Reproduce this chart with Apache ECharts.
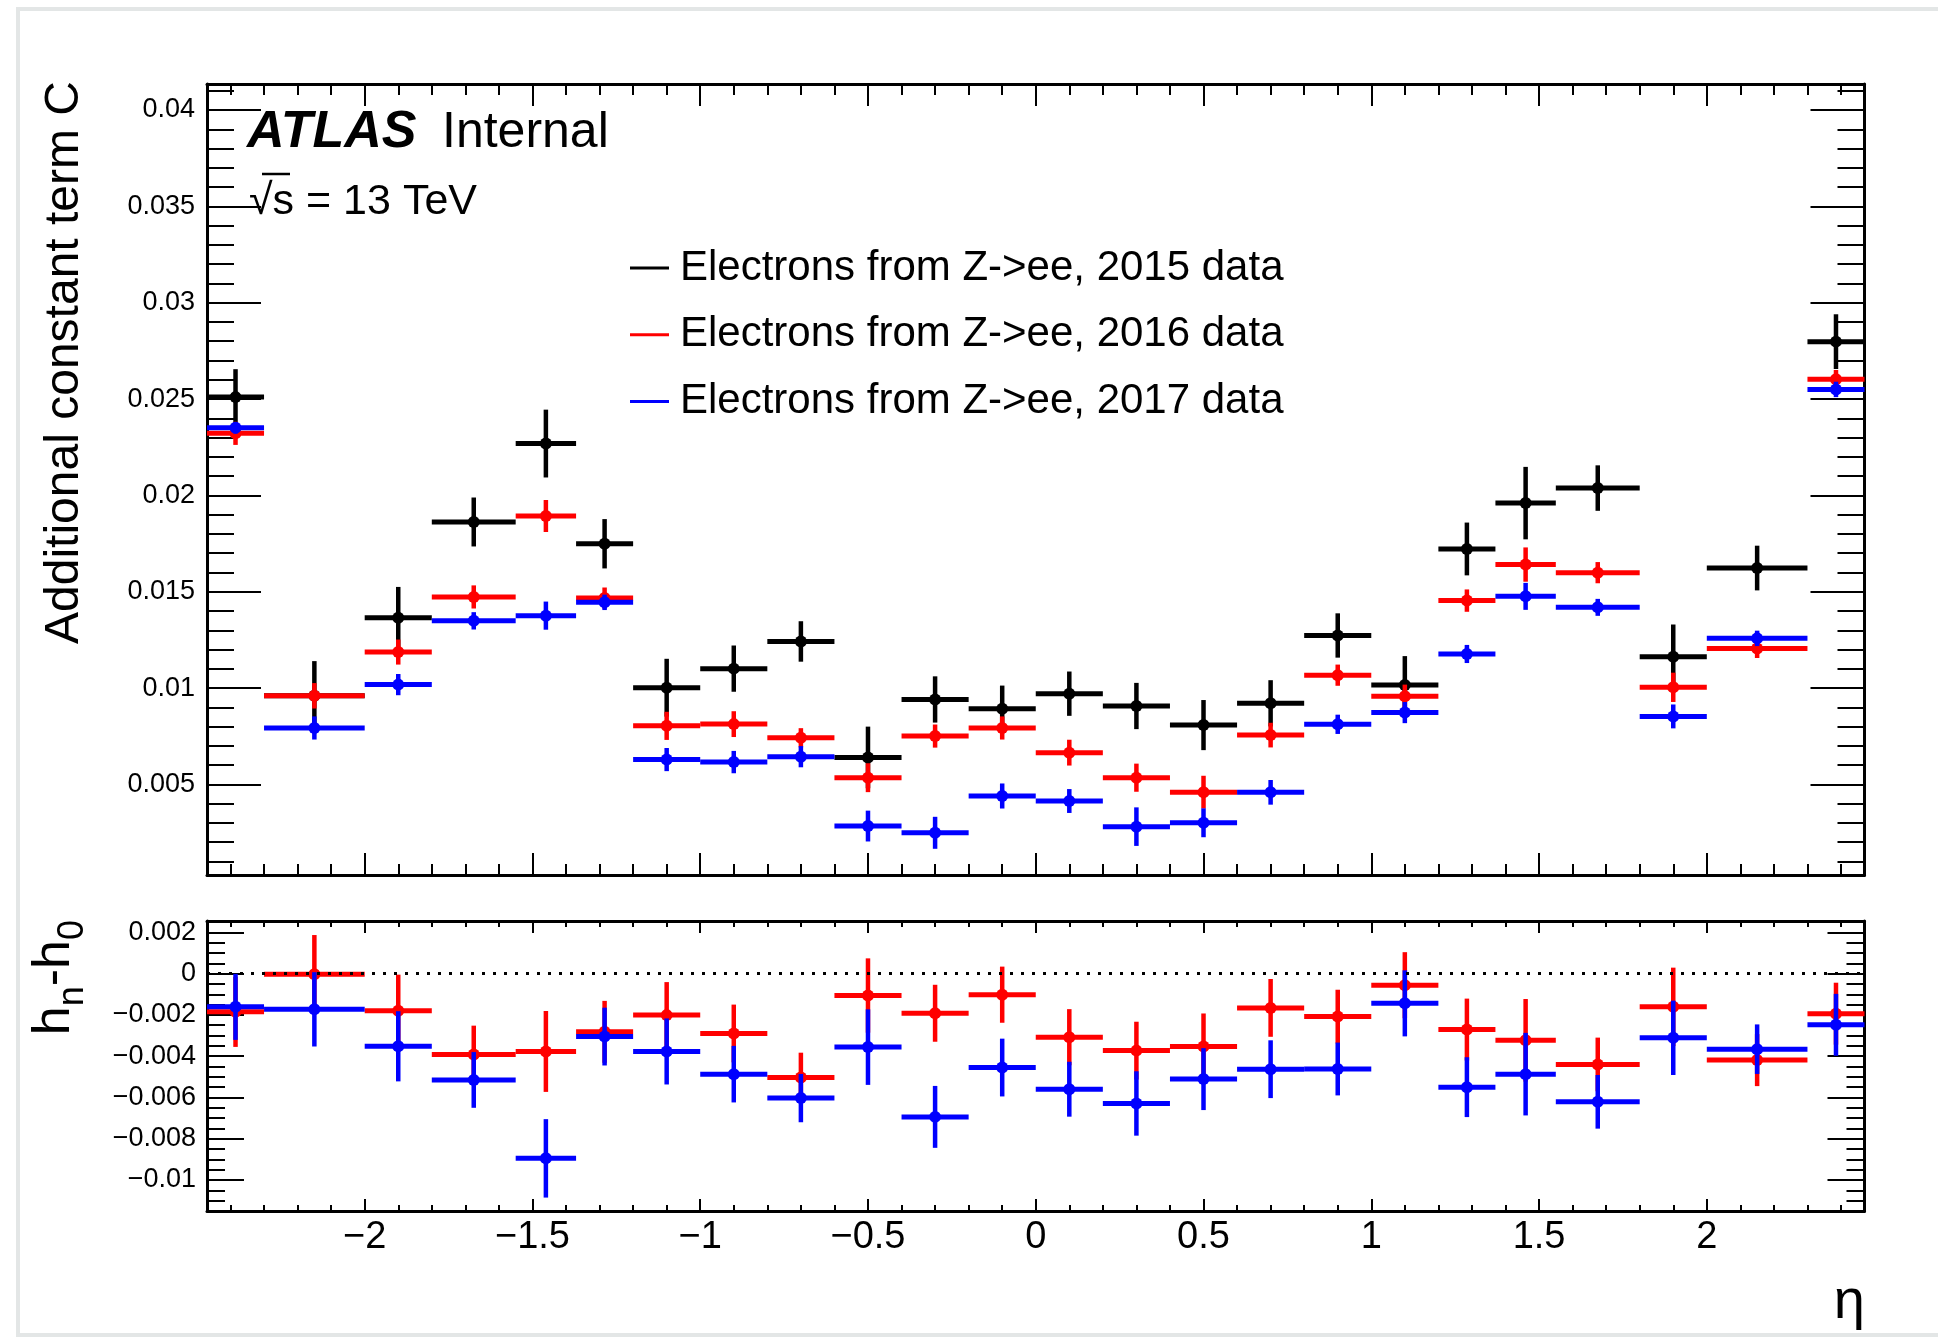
<!DOCTYPE html>
<html>
<head>
<meta charset="utf-8">
<script src="https://cdn.jsdelivr.net/npm/echarts@6/dist/echarts.min.js"></script>
<style>
  html, body { margin: 0; padding: 0; background: #fff; }
  #chart { width: 1938px; height: 1343px; }
</style>
</head>
<body>
<div id="chart"></div>
<script>
// eta bin edges (24 bins)
const etaEdges = [-2.47, -2.3, -2.0, -1.8, -1.55, -1.37, -1.2, -1.0, -0.8, -0.6, -0.4, -0.2,
  0, 0.2, 0.4, 0.6, 0.8, 1.0, 1.2, 1.37, 1.55, 1.8, 2.0, 2.3, 2.47];

// additional constant term C per bin
const c2015 = [0.0251, 0.0096, 0.01365, 0.01862, 0.02269, 0.01749, 0.01002, 0.01101, 0.01242, 0.0064, 0.00941, 0.00893,
  0.00971, 0.00907, 0.00808, 0.00921, 0.01273, 0.01016, 0.01722, 0.0196, 0.02038, 0.01163, 0.01623, 0.02798];
const c2015Err = [0.00145, 0.0018, 0.0016, 0.00127, 0.00176, 0.00128, 0.0015, 0.0012, 0.00105, 0.0016, 0.0012, 0.0012,
  0.00115, 0.0012, 0.0013, 0.0012, 0.00115, 0.0015, 0.00137, 0.00188, 0.00118, 0.00167, 0.00116, 0.00142];
const c2016 = [0.02322, 0.0096, 0.01187, 0.01473, 0.01893, 0.01467, 0.00804, 0.00813, 0.00742, 0.00535, 0.00751, 0.00793,
  0.00665, 0.00535, 0.0046, 0.00756, 0.01067, 0.00958, 0.01454, 0.01641, 0.01599, 0.01004, 0.01206, 0.02603];
const c2016Err = [0.0006, 0.00066, 0.00065, 0.0006, 0.00083, 0.00055, 0.00073, 0.00067, 0.0005, 0.00075, 0.0006, 0.0006,
  0.00067, 0.00073, 0.00085, 0.00064, 0.00055, 0.0006, 0.00058, 0.00089, 0.00055, 0.00076, 0.0005, 0.00048];
const c2017 = [0.02351, 0.00793, 0.01018, 0.01349, 0.01376, 0.01445, 0.00629, 0.00616, 0.00644, 0.00284, 0.00249, 0.0044,
  0.00414, 0.00281, 0.00301, 0.00459, 0.00812, 0.00873, 0.01177, 0.01476, 0.01419, 0.00853, 0.01258, 0.0255];
const c2017Err = [0.0003, 0.0006, 0.00055, 0.00045, 0.00073, 0.0004, 0.0006, 0.00058, 0.00055, 0.0008, 0.00083, 0.00065,
  0.00062, 0.001, 0.00075, 0.00064, 0.0005, 0.00055, 0.00047, 0.0007, 0.00044, 0.00062, 0.0004, 0.0004];

// h_n - h_0 (lower panel)
const d2016 = [-0.00185, -0.00003, -0.0018, -0.00392, -0.00377, -0.00282, -0.00201, -0.0029, -0.00503, -0.00106, -0.00192, -0.00102,
  -0.00308, -0.00373, -0.00353, -0.00166, -0.00208, -0.00056, -0.00271, -0.00323, -0.0044, -0.00161, -0.00419, -0.00194];
const d2016Err = [0.0017, 0.0019, 0.00175, 0.0014, 0.00196, 0.0015, 0.0016, 0.0014, 0.0012, 0.0018, 0.00138, 0.00136,
  0.00136, 0.0014, 0.0016, 0.0014, 0.0013, 0.0016, 0.0015, 0.002, 0.0013, 0.0019, 0.00126, 0.0015];
const d2017 = [-0.00161, -0.00173, -0.00352, -0.00515, -0.00895, -0.00305, -0.00377, -0.00487, -0.00603, -0.00356, -0.00694, -0.00455,
  -0.0056, -0.00629, -0.00511, -0.00463, -0.00462, -0.00144, -0.0055, -0.00487, -0.00621, -0.00311, -0.00366, -0.00248];
const d2017Err = [0.0016, 0.0018, 0.0017, 0.00135, 0.0019, 0.0014, 0.0016, 0.00137, 0.00117, 0.00183, 0.0015, 0.0014,
  0.00133, 0.00156, 0.0015, 0.0014, 0.00128, 0.0016, 0.00145, 0.002, 0.0013, 0.0018, 0.0012, 0.0015];

const legendNames = ['Electrons from Z->ee, 2015 data', 'Electrons from Z->ee, 2016 data', 'Electrons from Z->ee, 2017 data'];

// tick positions
const xMajor = [-2, -1.5, -1, -0.5, 0, 0.5, 1, 1.5, 2];
const yTopMajor = [0.005, 0.01, 0.015, 0.02, 0.025, 0.03, 0.035, 0.04];
const yBotMajor = [-0.01, -0.008, -0.006, -0.004, -0.002, 0, 0.002];

const font = "'Liberation Sans', Arial, Helvetica, sans-serif";

function steps(from, to, step) {
  const out = [];
  const n = Math.round((to - from) / step);
  for (let i = 0; i <= n; i++) out.push(+(from + i * step).toFixed(6));
  return out;
}
function minorOnly(vals, major) {
  return vals.filter(v => !major.some(m => Math.abs(m - v) < 1e-9));
}
const xMinor = minorOnly(steps(-2.4, 2.4, 0.1), xMajor);
const yTopMinor = minorOnly(steps(0.001, 0.041, 0.001), yTopMajor);
const yBotMinor = minorOnly(steps(-0.0115, 0.0025, 0.0005), yBotMajor);

function fmt(v) {
  return String(parseFloat(Number(v).toFixed(5))).replace('-', '\u2212');
}

function axis(gridIndex, position, min, max, tickVals, tickLen, showLine, label) {
  return {
    type: 'value', gridIndex, position, min, max,
    axisLine: { show: showLine, onZero: false, lineStyle: { color: '#000', width: 3 } },
    axisTick: { show: true, inside: true, length: tickLen, customValues: tickVals,
      lineStyle: { color: '#000', width: 2 } },
    axisLabel: label ? Object.assign({ show: true, customValues: tickVals, formatter: fmt,
      color: '#000', fontFamily: font }, label) : { show: false },
    splitLine: { show: false }
  };
}

const xMin = -2.47, xMax = 2.47;
const topMin = 0.0003, topMax = 0.04135;
const botMin = -0.0115, botMax = 0.00255;

const xAxes = [
  axis(0, 'bottom', xMin, xMax, xMajor, 22, true),
  axis(0, 'bottom', xMin, xMax, xMinor, 11, false),
  axis(0, 'top', xMin, xMax, xMajor, 22, true),
  axis(0, 'top', xMin, xMax, xMinor, 11, false),
  axis(1, 'bottom', xMin, xMax, xMajor, 12, true, { fontSize: 38, margin: 8 }),
  axis(1, 'bottom', xMin, xMax, xMinor, 6, false),
  axis(1, 'top', xMin, xMax, xMajor, 12, true),
  axis(1, 'top', xMin, xMax, xMinor, 6, false)
];
const yAxes = [
  axis(0, 'left', topMin, topMax, yTopMajor, 54, true, { fontSize: 27, margin: 12 }),
  axis(0, 'left', topMin, topMax, yTopMinor, 27, false),
  axis(0, 'right', topMin, topMax, yTopMajor, 54, true),
  axis(0, 'right', topMin, topMax, yTopMinor, 27, false),
  axis(1, 'left', botMin, botMax, yBotMajor, 37, true, { fontSize: 27, margin: 11 }),
  axis(1, 'left', botMin, botMax, yBotMinor, 18, false),
  axis(1, 'right', botMin, botMax, yBotMajor, 37, true),
  axis(1, 'right', botMin, botMax, yBotMinor, 18, false)
];

function binData(vals, errs) {
  return vals.map((v, i) => [etaEdges[i], etaEdges[i + 1], v, errs[i]]);
}

function renderBin(params, api) {
  const lo = api.value(0), hi = api.value(1), v = api.value(2), e = api.value(3);
  const mid = (lo + hi) / 2;
  const a = api.coord([lo, v]), b = api.coord([hi, v]);
  const t = api.coord([mid, v + e]), d = api.coord([mid, v - e]);
  const c = api.coord([mid, v]);
  const color = api.visual('color');
  return {
    type: 'group',
    children: [
      { type: 'line', shape: { x1: a[0], y1: a[1], x2: b[0], y2: b[1] }, style: { stroke: color, lineWidth: 5 } },
      { type: 'line', shape: { x1: t[0], y1: t[1], x2: d[0], y2: d[1] }, style: { stroke: color, lineWidth: 4.5 } },
      { type: 'circle', shape: { cx: c[0], cy: c[1], r: 6 }, style: { fill: color } }
    ]
  };
}

function binSeries(name, color, vals, errs, xi, yi, extra) {
  return Object.assign({
    name, type: 'custom', xAxisIndex: xi, yAxisIndex: yi,
    itemStyle: { color }, renderItem: renderBin,
    encode: { x: [0, 1], y: 2 },
    data: binData(vals, errs)
  }, extra || {});
}

const chart = echarts.init(document.getElementById('chart'), null, { renderer: 'canvas' });
chart.setOption({
  backgroundColor: '#fff',
  animation: false,
  grid: [
    { left: 207, right: 73.5, top: 84, height: 791, outerBoundsMode: 'none' },
    { left: 207, right: 73.5, top: 921, height: 290, outerBoundsMode: 'none' }
  ],
  xAxis: xAxes,
  yAxis: yAxes,
  legend: {
    orient: 'vertical', left: 630, top: 247, padding: 0,
    itemWidth: 39, itemHeight: 3, itemGap: 24.8,
    data: legendNames.map(n => ({ name: n, icon: 'rect' })),
    textStyle: { fontFamily: font, fontSize: 42, lineHeight: 42, color: '#000', padding: [0, 0, 0, 6] },
    selectedMode: false
  },
  series: [
    binSeries(legendNames[0], '#000000', c2015, c2015Err, 0, 0),
    binSeries(legendNames[1], '#ff0000', c2016, c2016Err, 0, 0),
    binSeries(legendNames[2], '#0000ff', c2017, c2017Err, 0, 0),
    binSeries('diff 2016', '#ff0000', d2016, d2016Err, 4, 4, {
      markLine: {
        silent: true, symbol: 'none', label: { show: false },
        lineStyle: { color: '#000', width: 3, type: [3, 8] },
        data: [{ yAxis: 0 }]
      }
    }),
    binSeries('diff 2017', '#0000ff', d2017, d2017Err, 4, 4)
  ],
  graphic: [
    { type: 'rect', silent: true, z: -10, shape: { x: 18, y: 9, width: 1960, height: 1326 },
      style: { fill: 'none', stroke: '#e3e6e6', lineWidth: 4 } },
    { type: 'text', x: 247, y: 133, style: { text: 'ATLAS', font: 'italic bold 52px ' + font,
      fill: '#000', verticalAlign: 'middle' } },
    { type: 'text', x: 442, y: 133, style: { text: 'Internal', font: '50px ' + font,
      fill: '#000', verticalAlign: 'middle' } },
    { type: 'text', x: 249, y: 202, style: { text: '\u221As = 13 TeV', font: '43px ' + font,
      fill: '#000', verticalAlign: 'middle' } },
    // overline of the square root
    { type: 'line', silent: true, shape: { x1: 262, y1: 174, x2: 290, y2: 174 },
      style: { stroke: '#000', lineWidth: 2.5 } },
    { type: 'text', x: 65, y: 81, rotation: Math.PI / 2,
      style: { text: 'Additional constant term C', font: '48px ' + font, fill: '#000',
        align: 'right', verticalAlign: 'middle' } },
    { type: 'text', x: 55, y: 920, rotation: Math.PI / 2,
      style: { text: '{m|h}{s|n}{m|-h}{s|0}', fill: '#000', align: 'right', verticalAlign: 'middle',
        rich: {
          m: { fontFamily: font, fontSize: 52, fill: '#000' },
          s: { fontFamily: font, fontSize: 36, fill: '#000', padding: [36, 0, 0, 0] }
        } } },
    { type: 'text', x: 1865, y: 1303, style: { text: '\u03B7', font: '56px ' + font,
      fill: '#000', align: 'right', verticalAlign: 'middle' } }
  ]
});
</script>
</body>
</html>
